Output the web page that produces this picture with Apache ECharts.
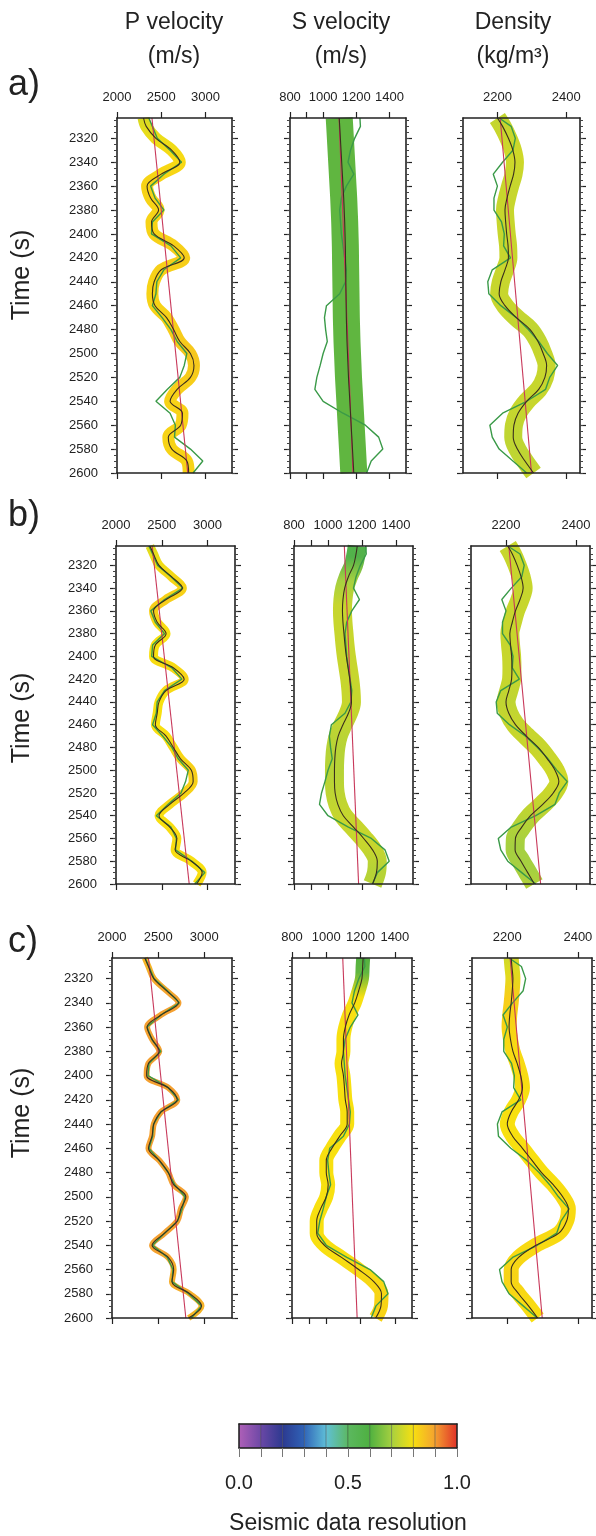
<!DOCTYPE html>
<html>
<head>
<meta charset="utf-8">
<title>Elastic property inversion</title>
<script src="https://cdn.jsdelivr.net/npm/echarts@6.0.0/dist/echarts.min.js"></script>
<style>
  html, body { margin: 0; padding: 0; background: #fff; }
</style>
</head>
<body>
<div id="main" style="width:596px;height:1536px;"></div>
<script type="text/javascript">
// sample times (ms) shared by the curves
var time = [2303, 2310, 2320, 2330, 2340, 2350, 2360, 2370, 2380, 2390, 2400, 2410, 2420, 2430, 2440,
            2450, 2460, 2470, 2480, 2490, 2500, 2510, 2520, 2530, 2540, 2550, 2560, 2570, 2580, 2590, 2600];

// well logs (green)
var logP = [2360, 2400, 2455, 2600, 2730, 2530, 2380, 2430, 2530, 2400, 2390, 2610, 2720, 2530, 2450,
            2440, 2400, 2510, 2610, 2680, 2790, 2760, 2710, 2570, 2440, 2600, 2660, 2650, 2830, 2970, 2860];
var logS = [1222, 1225, 1190, 1165, 1150, 1185, 1140, 1110, 1100, 1105, 1110, 1120, 1130, 1140, 1135,
            1100, 1020, 1008, 1015, 1025, 1000, 982, 962, 950, 1000, 1120, 1255, 1335, 1360, 1290, 1262];
var logD = [2205, 2240, 2252, 2245, 2215, 2188, 2200, 2190, 2190, 2212, 2220, 2218, 2238, 2185, 2172,
            2175, 2210, 2255, 2290, 2320, 2345, 2375, 2352, 2340, 2285, 2215, 2178, 2185, 2205, 2245, 2285];

// low-frequency trend (red)
var trendTime = [2303, 2600];
var trendP = [2395, 2800];
var trendS = [1096, 1180];
var trendD = [2208, 2299];

// inverted mean models (dark line, centre of the band)
var meanPa = [2300, 2330, 2440, 2620, 2710, 2500, 2340, 2380, 2470, 2390, 2420, 2640, 2760, 2500, 2420,
              2400, 2430, 2560, 2640, 2710, 2830, 2870, 2830, 2680, 2600, 2740, 2720, 2580, 2620, 2790, 2810];
var meanSa = [1097, 1100, 1104, 1108, 1112, 1116, 1120, 1124, 1127, 1130, 1132, 1134, 1135, 1136, 1137,
              1138, 1139, 1140, 1142, 1144, 1147, 1150, 1153, 1157, 1161, 1165, 1169, 1173, 1177, 1181, 1185];
var meanDa = [2200, 2215, 2232, 2245, 2251, 2247, 2237, 2228, 2222, 2224, 2227, 2231, 2232, 2222, 2210,
              2205, 2222, 2255, 2295, 2318, 2333, 2343, 2338, 2320, 2285, 2260, 2248, 2246, 2258, 2280, 2305];
var meanPb = [2370, 2410, 2470, 2606, 2725, 2547, 2410, 2450, 2547, 2430, 2410, 2626, 2745, 2547, 2470,
              2450, 2430, 2547, 2626, 2705, 2823, 2843, 2745, 2587, 2470, 2587, 2665, 2646, 2823, 2941, 2882];
var meanSb = [1172, 1165, 1150, 1120, 1098, 1088, 1085, 1088, 1094, 1100, 1108, 1118, 1128, 1135, 1138,
              1120, 1088, 1060, 1046, 1040, 1038, 1038, 1042, 1058, 1090, 1150, 1210, 1262, 1290, 1285, 1262];
var meanDb = [2205, 2218, 2232, 2243, 2249, 2240, 2227, 2218, 2211, 2213, 2216, 2217, 2216, 2208, 2200,
              2208, 2227, 2258, 2292, 2318, 2340, 2351, 2335, 2305, 2270, 2245, 2227, 2226, 2243, 2262, 2281];
var meanPc = [2356, 2395, 2453, 2590, 2720, 2531, 2380, 2434, 2512, 2395, 2375, 2609, 2707, 2531, 2453,
              2434, 2395, 2512, 2609, 2668, 2800, 2746, 2707, 2570, 2434, 2609, 2668, 2650, 2843, 2970, 2830];
var meanSc = [1215, 1212, 1208, 1189, 1166, 1133, 1111, 1100, 1100, 1089, 1100, 1106, 1111, 1122, 1122,
              1078, 1033, 1000, 1000, 1011, 1000, 967, 944, 944, 989, 1089, 1189, 1277, 1322, 1319, 1288];
var meanDc = [2211, 2213, 2216, 2214, 2211, 2207, 2205, 2209, 2216, 2228, 2238, 2243, 2232, 2211, 2200,
              2215, 2243, 2270, 2297, 2330, 2357, 2373, 2368, 2346, 2281, 2232, 2211, 2211, 2232, 2260, 2286];

// seismic data resolution along each band
var resTime = [2303, 2320, 2340, 2360, 2380, 2400, 2420, 2440, 2460, 2480, 2500, 2520, 2540, 2560, 2580, 2600];
var resPa = [0.75, 0.78, 0.81, 0.82, 0.82, 0.82, 0.83, 0.82, 0.82, 0.83, 0.84, 0.83, 0.82, 0.82, 0.82, 0.82];
var resSa = [0.62, 0.62, 0.62, 0.62, 0.62, 0.62, 0.62, 0.62, 0.62, 0.62, 0.62, 0.62, 0.62, 0.62, 0.62, 0.62];
var resDa = [0.73, 0.74, 0.75, 0.74, 0.74, 0.74, 0.74, 0.74, 0.74, 0.73, 0.74, 0.74, 0.74, 0.73, 0.73, 0.74];
var resPb = [0.76, 0.79, 0.82, 0.83, 0.80, 0.80, 0.82, 0.80, 0.80, 0.81, 0.83, 0.82, 0.80, 0.81, 0.80, 0.81];
var resSb = [0.56, 0.57, 0.70, 0.74, 0.74, 0.74, 0.74, 0.74, 0.73, 0.72, 0.72, 0.73, 0.74, 0.74, 0.72, 0.72];
var resDb = [0.74, 0.74, 0.74, 0.74, 0.74, 0.74, 0.74, 0.73, 0.74, 0.74, 0.75, 0.74, 0.72, 0.70, 0.70, 0.72];
var resPc = [0.86, 0.88, 0.90, 0.90, 0.90, 0.90, 0.90, 0.90, 0.90, 0.90, 0.90, 0.90, 0.90, 0.88, 0.88, 0.86];
var resSc = [0.60, 0.62, 0.80, 0.80, 0.80, 0.80, 0.80, 0.80, 0.80, 0.80, 0.80, 0.80, 0.80, 0.81, 0.82, 0.82];
var resDc = [0.74, 0.77, 0.83, 0.82, 0.81, 0.81, 0.80, 0.80, 0.80, 0.80, 0.81, 0.81, 0.81, 0.82, 0.81, 0.80];

// tick marks / labels
var timeTicks = [2320, 2340, 2360, 2380, 2400, 2420, 2440, 2460, 2480, 2500, 2520, 2540, 2560, 2580, 2600];
var pTicks = [2000, 2500, 3000];
var sTicks = [800, 1000, 1200, 1400];
var sTickMarks = [800, 900, 1000, 1200, 1400];
var dTicks = [2200, 2400];

// colour scale
var cbValues = [0, 0.1, 0.2, 0.3, 0.4, 0.5, 0.6, 0.7, 0.8, 0.9, 1.0];
var cbColors = ['#b060b8', '#6c48a6', '#2c3990', '#3064b8', '#60c0d8', '#5cb860',
                '#4eb040', '#a6d040', '#f8e010', '#f4a030', '#e03028'];
var cbLabels = [0, 0.5, 1];

var tMin = 2303, tMax = 2600;
var numFont = "'Liberation Sans',Arial,Helvetica,sans-serif";
var textFont = "'Liberation Sans',Arial,Helvetica,sans-serif";
var ink = '#222';

var minorTicks = [];
for (var m = 2305; m <= 2600; m += 5) minorTicks.push(m);
var cbTicks = cbValues.slice();

function plain(v) { return String(v); }
function hexToRgb(h) {
  return [parseInt(h.substr(1, 2), 16), parseInt(h.substr(3, 2), 16), parseInt(h.substr(5, 2), 16)];
}
function colorAt(r) {
  for (var i = 0; i < cbValues.length - 1; i++) {
    if (r <= cbValues[i + 1] || i === cbValues.length - 2) {
      var f = Math.max(0, Math.min(1, (r - cbValues[i]) / (cbValues[i + 1] - cbValues[i])));
      var a = hexToRgb(cbColors[i]), b = hexToRgb(cbColors[i + 1]);
      return 'rgb(' + [0, 1, 2].map(function (k) { return Math.round(a[k] + (b[k] - a[k]) * f); }).join(',') + ')';
    }
  }
}
function bandGradient(res) {
  var stops = resTime.map(function (t, i) {
    return { offset: (t - tMin) / (tMax - tMin), color: colorAt(res[i]) };
  });
  return new echarts.graphic.LinearGradient(0, 0, 0, 1, stops);
}
function pairs(xs, ts) {
  ts = ts || time;
  return xs.map(function (v, i) { return [v, ts[i]]; });
}

// layout of the three rows of panels
var rows = [
  { top: 118, height: 355, tag: 'a)', tagY: 85, timeY: 275, lefts: [117, 290, 463], widths: [115, 116, 117] },
  { top: 546, height: 338, tag: 'b)', tagY: 516, timeY: 718, lefts: [116, 294, 471], widths: [119, 119, 119] },
  { top: 958, height: 360, tag: 'c)', tagY: 942, timeY: 1113, lefts: [112, 292, 472], widths: [120, 120, 120] }
];
var means = [[meanPa, meanSa, meanDa], [meanPb, meanSb, meanDb], [meanPc, meanSc, meanDc]];
var resol = [[resPa, resSa, resDa], [resPb, resSb, resDb], [resPc, resSc, resDc]];
var bandWidth = [[12, 27, 18], [9, 19, 19], [6, 14, 15]];
var logs = [logP, logS, logD];
var trends = [trendP, trendS, trendD];
var xRange = [[2000, 3300], [800, 1500], [2100, 2440]];
var xTickMarks = [pTicks, sTickMarks, dTicks];
var xLabels = [pTicks, sTicks, dTicks];

var option = {
  animation: false,
  backgroundColor: '#fff',
  grid: [], xAxis: [], yAxis: [], series: [], graphic: []
};

var lineStyleAxis = { color: ink, width: 1.6 };
var k = 0;
rows.forEach(function (row, r) {
  for (var c = 0; c < 3; c++) {
    option.grid.push({ left: row.lefts[c], top: row.top, width: row.widths[c], height: row.height });
    ['top', 'bottom'].forEach(function (pos) {
      option.xAxis.push({
        gridIndex: k, type: 'value', position: pos, min: xRange[c][0], max: xRange[c][1], z: 10,
        axisLine: { show: true, onZero: false, lineStyle: lineStyleAxis },
        axisTick: { show: true, customValues: xTickMarks[c], length: 6, lineStyle: { color: ink, width: 1.2 } },
        axisLabel: { show: pos === 'top', customValues: xLabels[c], margin: 14, fontSize: 13, color: ink,
                     fontFamily: numFont, formatter: plain },
        splitLine: { show: false }
      });
    });
    ['left', 'right'].forEach(function (pos) {
      option.yAxis.push({
        gridIndex: k, type: 'value', inverse: true, position: pos, min: tMin, max: tMax, z: 10,
        axisLine: { show: true, onZero: false, lineStyle: lineStyleAxis },
        axisTick: { show: true, customValues: timeTicks, length: 6, lineStyle: { color: ink, width: 1.2 } },
        axisLabel: { show: pos === 'left' && c === 0, customValues: timeTicks, margin: 19, fontSize: 13, color: ink,
                     fontFamily: numFont, formatter: plain },
        splitLine: { show: false }
      });
      option.yAxis.push({
        gridIndex: k, type: 'value', inverse: true, position: pos, min: tMin, max: tMax, z: 10,
        axisLine: { show: false, onZero: false },
        axisTick: { show: true, customValues: minorTicks, length: 3, lineStyle: { color: '#444', width: 1 } },
        axisLabel: { show: false },
        splitLine: { show: false }
      });
    });
    var xi = 2 * k, yi = 4 * k;
    option.series.push(
      { type: 'line', xAxisIndex: xi, yAxisIndex: yi, data: pairs(means[r][c]), smooth: 0.35, symbol: 'none', z: 1,
        lineStyle: { width: bandWidth[r][c], color: bandGradient(resol[r][c]), cap: 'butt', join: 'round' } },
      { type: 'line', xAxisIndex: xi, yAxisIndex: yi, data: pairs(logs[c]), smooth: false, symbol: 'none', z: 2,
        lineStyle: { width: 1.4, color: '#3a9a48' } },
      { type: 'line', xAxisIndex: xi, yAxisIndex: yi, data: pairs(trends[c], trendTime), symbol: 'none', z: 3,
        lineStyle: { width: 1.1, color: '#c8385a' } },
      { type: 'line', xAxisIndex: xi, yAxisIndex: yi, data: pairs(means[r][c]), smooth: 0.35, symbol: 'none', z: 4,
        lineStyle: { width: 1.1, color: '#3a2e1e' } }
    );
    k++;
  }
  option.graphic.push(
    { type: 'text', x: 8, y: row.tagY, style: { text: row.tag, font: '36px ' + textFont, fill: ink, textVerticalAlign: 'middle', verticalAlign: 'middle' } },
    { type: 'text', x: 22, y: row.timeY, rotation: Math.PI / 2,
      style: { text: 'Time (s)', font: '25px ' + textFont, fill: ink, textAlign: 'center', align: 'center', textVerticalAlign: 'middle', verticalAlign: 'middle' } }
  );
});

// column titles
[['P velocity', '(m/s)', 174], ['S velocity', '(m/s)', 341], ['Density', '(kg/m³)', 513]].forEach(function (t) {
  option.graphic.push(
    { type: 'text', x: t[2], y: 23, style: { text: t[0], font: '23px ' + textFont, fill: ink, textAlign: 'center', align: 'center', textVerticalAlign: 'middle', verticalAlign: 'middle' } },
    { type: 'text', x: t[2], y: 57, style: { text: t[1], font: '23px ' + textFont, fill: ink, textAlign: 'center', align: 'center', textVerticalAlign: 'middle', verticalAlign: 'middle' } }
  );
});

// colour bar
var cbGrid = option.grid.length;
option.grid.push({ left: 239, top: 1424, width: 218, height: 24 });
var cbX = option.xAxis.length;
option.xAxis.push({
  gridIndex: cbGrid, type: 'value', position: 'bottom', min: 0, max: 1, z: 10,
  axisLine: { show: true, onZero: false, lineStyle: { color: ink, width: 1.5 } },
  axisTick: { show: true, customValues: cbTicks, length: 9, lineStyle: { color: '#777', width: 1 } },
  axisLabel: { show: true, customValues: cbLabels, margin: 25, fontSize: 20, color: ink, fontFamily: textFont,
               formatter: function (v) { return v.toFixed(1); } },
  name: 'Seismic data resolution', nameLocation: 'middle', nameGap: 64,
  nameTextStyle: { fontSize: 23, color: ink, fontFamily: textFont },
  splitLine: { show: false }
}, {
  gridIndex: cbGrid, type: 'value', position: 'top', min: 0, max: 1, z: 10,
  axisLine: { show: true, onZero: false, lineStyle: { color: ink, width: 1.5 } },
  axisTick: { show: false }, axisLabel: { show: false }, splitLine: { show: false }
});
var cbY = option.yAxis.length;
['left', 'right'].forEach(function (pos) {
  option.yAxis.push({
    gridIndex: cbGrid, type: 'value', position: pos, min: 0, max: 1, z: 10,
    axisLine: { show: true, onZero: false, lineStyle: { color: ink, width: 1.5 } },
    axisTick: { show: false }, axisLabel: { show: false }, splitLine: { show: false }
  });
});
option.series.push({
  type: 'custom', xAxisIndex: cbX, yAxisIndex: cbY, silent: true,
  data: cbValues.slice(0, -1).map(function (v, i) { return [v, cbValues[i + 1], i]; }),
  renderItem: function (params, api) {
    var i = api.value(2);
    var p0 = api.coord([api.value(0), 1]);
    var p1 = api.coord([api.value(1), 0]);
    return {
      type: 'rect',
      shape: { x: p0[0], y: p0[1], width: p1[0] - p0[0], height: p1[1] - p0[1] },
      style: {
        fill: new echarts.graphic.LinearGradient(0, 0, 1, 0, [
          { offset: 0, color: cbColors[i] }, { offset: 1, color: cbColors[i + 1] }]),
        stroke: 'rgba(40,40,40,0.3)', lineWidth: 1
      }
    };
  }
});

var myChart = echarts.init(document.getElementById('main'));
myChart.setOption(option);
</script>
</body>
</html>
